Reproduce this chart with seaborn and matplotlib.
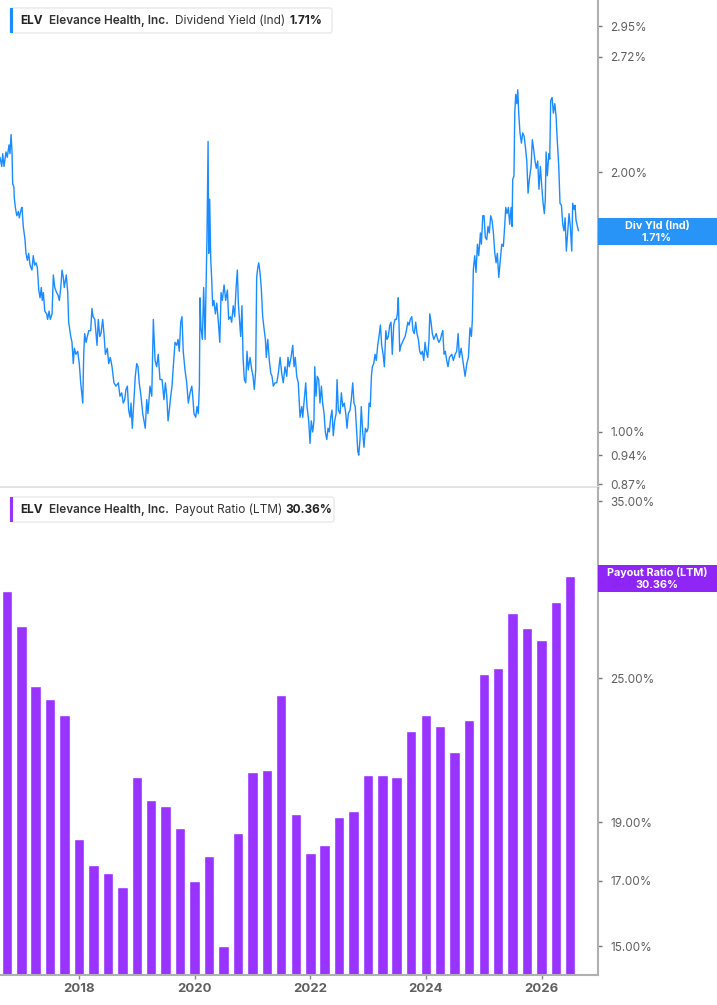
import pandas as pd
import matplotlib
matplotlib.use('Agg')
import matplotlib.pyplot as plt
from matplotlib.patches import FancyBboxPatch, Rectangle
from matplotlib.ticker import FixedLocator, NullLocator, FuncFormatter, NullFormatter
import seaborn as sns

sns.set_theme(style='white')
plt.rcParams['font.family'] = ['Inter', 'DejaVu Sans']

# --- data ---
yield_start = '2016-08-19'
yield_days = [
    0, 11, 17, 25, 38, 46, 57, 63, 70, 76, 80, 88, 90, 97, 106, 116, 122, 133, 139, 147,
    158, 164, 173, 181, 190, 202, 210, 219, 228, 236, 245, 253, 261, 267, 274, 283, 295, 301, 310, 318,
    329, 337, 346, 358, 367, 375, 384, 392, 400, 406, 419, 428, 434, 447, 455, 463, 470, 480, 491, 501,
    510, 523, 529, 535, 544, 552, 561, 573, 581, 588, 599, 605, 613, 621, 630, 638, 649, 657, 666, 678,
    687, 697, 708, 720, 733, 748, 758, 769, 779, 788, 796, 805, 813, 822, 828, 836, 845, 855, 864, 872,
    880, 891, 902, 910, 918, 927, 935, 948, 959, 969, 980, 990, 1000, 1011, 1024, 1036, 1045, 1054, 1062, 1070,
    1079, 1087, 1095, 1106, 1117, 1125, 1133, 1142, 1150, 1158, 1169, 1180, 1190, 1201, 1212, 1218, 1226, 1237, 1245, 1253,
    1260, 1264, 1270, 1279, 1287, 1296, 1302, 1308, 1315, 1319, 1325, 1332, 1338, 1344, 1352, 1361, 1370, 1380, 1389, 1397,
    1405, 1416, 1426, 1437, 1445, 1456, 1464, 1474, 1483, 1492, 1500, 1506, 1512, 1521, 1529, 1536, 1544, 1553, 1561, 1569,
    1580, 1591, 1599, 1607, 1616, 1622, 1629, 1635, 1643, 1651, 1660, 1668, 1677, 1683, 1692, 1702, 1711, 1719, 1727, 1738,
    1749, 1759, 1770, 1780, 1790, 1801, 1812, 1820, 1828, 1839, 1850, 1858, 1866, 1875, 1885, 1896, 1907, 1913, 1921, 1932,
    1940, 1951, 1959, 1967, 1976, 1984, 1989, 1997, 2005, 2014, 2022, 2031, 2039, 2048, 2056, 2065, 2073, 2081, 2090, 2098,
    2106, 2115, 2124, 2130, 2138, 2149, 2157, 2166, 2176, 2185, 2193, 2201, 2212, 2220, 2229, 2237, 2245, 2254, 2261, 2267,
    2275, 2283, 2292, 2300, 2309, 2318, 2326, 2332, 2340, 2347, 2353, 2362, 2370, 2378, 2387, 2395, 2404, 2412, 2421, 2429,
    2438, 2446, 2454, 2463, 2471, 2479, 2488, 2496, 2505, 2511, 2517, 2526, 2534, 2543, 2551, 2560, 2568, 2577, 2585, 2593,
    2602, 2610, 2618, 2627, 2635, 2644, 2652, 2661, 2669, 2678, 2686, 2694, 2703, 2711, 2716, 2724, 2732, 2741, 2749, 2757,
    2766, 2774, 2783, 2792, 2798, 2806, 2814, 2823, 2831, 2840, 2855, 2865, 2876, 2886, 2895, 2903, 2914, 2922, 2928, 2939,
    2950, 2960, 2970, 2979, 2985, 2991, 3000, 3008, 3017, 3025, 3036, 3042, 3051, 3059, 3067, 3076, 3084, 3092, 3101, 3109,
    3118, 3127, 3135, 3143, 3152, 3160, 3171, 3181, 3190, 3196, 3204, 3213, 3221, 3230, 3236, 3240, 3248, 3253, 3259, 3266,
    3272, 3278, 3286, 3295, 3303, 3312, 3320, 3329, 3337, 3345, 3356, 3364, 3373, 3381, 3389, 3398, 3406, 3415, 3424, 3432,
    3440, 3446, 3451, 3459, 3468, 3474, 3480, 3489, 3497, 3506, 3514, 3522, 3531, 3539, 3548, 3556, 3564, 3571, 3579, 3588,
    3596, 3604, 3613, 3619, 3628, 3634, 3640, 3649, 3655,
]
div_yield = [
    2.08, 2.03, 2.10, 2.03, 2.11, 2.08, 2.15, 2.10, 2.21, 2.11, 1.94, 1.92, 1.87, 1.82, 1.78, 1.80, 1.77, 1.81, 1.82, 1.73,
    1.67, 1.61, 1.58, 1.61, 1.56, 1.54, 1.60, 1.56, 1.57, 1.55, 1.46, 1.43, 1.47, 1.42, 1.45, 1.38, 1.37, 1.35, 1.38, 1.35,
    1.37, 1.52, 1.47, 1.45, 1.44, 1.42, 1.47, 1.54, 1.51, 1.47, 1.52, 1.45, 1.34, 1.29, 1.27, 1.20, 1.25, 1.23, 1.24, 1.20,
    1.14, 1.08, 1.23, 1.30, 1.27, 1.29, 1.31, 1.31, 1.39, 1.36, 1.35, 1.31, 1.26, 1.35, 1.29, 1.30, 1.35, 1.30, 1.23, 1.25,
    1.20, 1.22, 1.19, 1.14, 1.13, 1.14, 1.10, 1.11, 1.08, 1.09, 1.12, 1.13, 1.06, 1.04, 1.08, 1.01, 1.08, 1.16, 1.20, 1.19,
    1.14, 1.10, 1.05, 1.03, 1.01, 1.09, 1.05, 1.13, 1.10, 1.35, 1.21, 1.19, 1.23, 1.15, 1.15, 1.09, 1.14, 1.10, 1.03, 1.06,
    1.10, 1.13, 1.19, 1.27, 1.26, 1.28, 1.24, 1.34, 1.36, 1.24, 1.18, 1.14, 1.08, 1.11, 1.13, 1.10, 1.05, 1.04, 1.07, 1.05,
    1.13, 1.43, 1.32, 1.28, 1.47, 1.28, 1.47, 1.68, 2.17, 1.61, 1.86, 1.58, 1.50, 1.40, 1.42, 1.37, 1.41, 1.34, 1.27, 1.45,
    1.42, 1.48, 1.42, 1.46, 1.35, 1.36, 1.34, 1.40, 1.36, 1.47, 1.54, 1.41, 1.36, 1.29, 1.40, 1.22, 1.15, 1.14, 1.24, 1.18,
    1.22, 1.18, 1.16, 1.12, 1.18, 1.51, 1.55, 1.57, 1.53, 1.47, 1.36, 1.32, 1.28, 1.22, 1.28, 1.21, 1.17, 1.16, 1.13, 1.14,
    1.14, 1.17, 1.22, 1.17, 1.14, 1.19, 1.16, 1.22, 1.19, 1.22, 1.26, 1.19, 1.22, 1.16, 1.14, 1.04, 1.07, 1.04, 1.08, 1.14,
    1.07, 1.03, 0.97, 1.03, 1.00, 1.03, 1.19, 1.10, 1.16, 1.15, 1.08, 1.13, 1.08, 1.05, 1.00, 0.98, 1.01, 1.00, 1.04, 1.06,
    0.99, 1.03, 1.05, 1.15, 1.06, 1.05, 1.11, 1.07, 1.08, 1.05, 1.01, 1.05, 1.06, 1.09, 1.14, 1.08, 1.07, 1.00, 0.95, 0.94,
    0.98, 1.07, 1.00, 0.96, 1.01, 1.00, 1.01, 1.08, 1.07, 1.16, 1.19, 1.20, 1.23, 1.21, 1.26, 1.29, 1.33, 1.26, 1.23, 1.19,
    1.31, 1.28, 1.29, 1.33, 1.34, 1.23, 1.33, 1.35, 1.35, 1.37, 1.43, 1.24, 1.26, 1.27, 1.28, 1.29, 1.31, 1.34, 1.33, 1.35,
    1.36, 1.31, 1.30, 1.34, 1.30, 1.28, 1.24, 1.23, 1.24, 1.21, 1.27, 1.24, 1.22, 1.28, 1.37, 1.34, 1.30, 1.28, 1.29, 1.30,
    1.28, 1.27, 1.28, 1.30, 1.31, 1.23, 1.24, 1.21, 1.19, 1.22, 1.23, 1.21, 1.23, 1.24, 1.30, 1.22, 1.25, 1.22, 1.20, 1.16,
    1.20, 1.22, 1.32, 1.29, 1.35, 1.54, 1.60, 1.53, 1.65, 1.60, 1.70, 1.65, 1.78, 1.78, 1.68, 1.67, 1.73, 1.70, 1.78, 1.76,
    1.70, 1.61, 1.57, 1.61, 1.51, 1.57, 1.65, 1.64, 1.74, 1.82, 1.79, 1.82, 1.74, 1.82, 1.73, 1.96, 1.98, 2.34, 2.46, 2.40,
    2.49, 2.34, 2.22, 2.16, 2.22, 2.20, 2.14, 2.06, 1.89, 1.96, 2.03, 2.18, 2.12, 2.06, 2.02, 2.06, 1.91, 2.03, 1.92, 1.84,
    1.79, 1.86, 2.11, 1.98, 2.10, 2.07, 2.42, 2.44, 2.34, 2.40, 2.32, 2.17, 2.03, 1.84, 1.83, 1.74, 1.71, 1.77, 1.62, 1.71,
    1.79, 1.73, 1.62, 1.84, 1.81, 1.83, 1.76, 1.73, 1.71,
]

payout_quarters = pd.date_range('2016-10-01', periods=40, freq='QS')
payout_ratio = [
    29.5, 27.6, 24.6, 24.0, 23.3, 18.4, 17.5, 17.25, 16.8, 20.7,
    19.8, 19.6, 18.8, 17.0, 17.8, 15.0, 18.6, 20.9, 21.0, 24.2,
    19.3, 17.9, 18.2, 19.2, 19.4, 20.8, 20.8, 20.7, 22.6, 23.3,
    22.8, 21.7, 23.1, 25.2, 25.5, 28.3, 27.5, 26.9, 28.9, 30.36,
]

yield_ticks = [0.87, 0.94, 1.00, 2.00, 2.72, 2.95]
payout_ticks = [15, 17, 19, 25, 30, 35]
year_ticks = [2018, 2020, 2022, 2024, 2026]

BLUE = '#1a8cff'
BLUE_BOX = '#2191f7'
PURPLE = '#9933ff'
PURPLE_BOX = '#8b1ff5'
GREY_TXT = '#5f5f5f'

W, H = 717, 1005
fig = plt.figure(figsize=(W / 100, H / 100), dpi=100)
fig.patch.set_facecolor('white')


def fx(x):
    return x / W


def fy(y):
    return 1 - y / H


ax1 = fig.add_axes([0, fy(487), fx(598), fy(0) - fy(487)])
ax2 = fig.add_axes([0, fy(975), fx(598), fy(488) - fy(975)])

# top: dividend yield line
df_yield = pd.DataFrame({
    'date': pd.Timestamp(yield_start) + pd.to_timedelta(yield_days, unit='D'),
    'yield': div_yield,
})
sns.lineplot(data=df_yield, x='date', y='yield', ax=ax1, color=BLUE, linewidth=1.0)
ax1.set_yscale('log')
ax1.set_ylim(0.8635, 3.164)

# bottom: payout ratio bars
ax2.bar(payout_quarters, payout_ratio, width=66, color=PURPLE, log=True)
ax2.set_ylim(14.2, 35.9)

x0 = pd.Timestamp(yield_start)
x1 = x0 + pd.Timedelta(days=3779)
for ax, ticks in [(ax1, yield_ticks), (ax2, payout_ticks)]:
    ax.set_xlim(x0, x1)
    ax.set_xlabel('')
    ax.set_ylabel('')
    ax.yaxis.tick_right()
    ax.yaxis.set_major_locator(FixedLocator(ticks))
    ax.yaxis.set_minor_locator(NullLocator())
    ax.yaxis.set_minor_formatter(NullFormatter())
    ax.yaxis.set_major_formatter(FuncFormatter(lambda v, _: f'{v:.2f}%'))
    ax.tick_params(axis='y', which='major', length=3, width=1, color='#777777',
                   labelcolor=GREY_TXT, labelsize=8.5, pad=6, right=True, left=False)
    ax.spines['top'].set_visible(False)
    ax.spines['left'].set_visible(False)
    ax.spines['right'].set_color('#b0b0b0')
    ax.spines['right'].set_linewidth(1.5)
    ax.set_facecolor('white')

ax1.spines['bottom'].set_color('#e2e2e2')
ax1.spines['bottom'].set_linewidth(2)
ax1.tick_params(axis='x', bottom=False, labelbottom=False)

ax2.spines['bottom'].set_color('#b0b0b0')
ax2.spines['bottom'].set_linewidth(1.5)
ax2.set_xticks([pd.Timestamp(f'{y}-01-01') for y in year_ticks])
ax2.set_xticklabels([str(y) for y in year_ticks])
ax2.tick_params(axis='x', bottom=True, length=3, width=1, color='#888888',
                labelcolor=GREY_TXT, labelsize=9.5, pad=3)
for lbl in ax2.get_xticklabels():
    lbl.set_fontweight('bold')


def legend_box(y_top, right, color, name, value, val_x):
    h = 25
    box = FancyBboxPatch((fx(10), fy(y_top + h)), fx(right - 10), h / H,
                         boxstyle='round,pad=0,rounding_size=0.003',
                         transform=fig.transFigure, facecolor='white',
                         edgecolor='#e4e4e4', linewidth=0.8, zorder=5)
    fig.patches.append(box)
    strip = Rectangle((fx(10), fy(y_top + h)), fx(3), h / H, transform=fig.transFigure,
                      facecolor=color, edgecolor='none', zorder=6)
    fig.patches.append(strip)
    yc = fy(y_top + h / 2 + 0.5)
    fs = 8.5
    fig.text(fx(20), yc, 'ELV', fontsize=fs, fontweight='bold', color='#222222', va='center', zorder=7)
    fig.text(fx(49), yc, 'Elevance Health, Inc.', fontsize=fs, fontweight='semibold', color='#333333',
             va='center', zorder=7)
    fig.text(fx(175), yc, name, fontsize=fs, color='#333333', va='center', zorder=7)
    fig.text(fx(val_x), yc, value, fontsize=fs, fontweight='bold', color='#222222', va='center', zorder=7)


legend_box(8, 332, BLUE, 'Dividend Yield (Ind)', '1.71%', 290)
legend_box(497, 334, PURPLE, 'Payout Ratio (LTM)', '30.36%', 285)


def value_tag(y_top, color, name, value):
    h = 27
    tag = Rectangle((fx(598), fy(y_top + h)), fx(119), h / H, transform=fig.transFigure,
                    facecolor=color, edgecolor='none', alpha=0.97, zorder=8)
    fig.patches.append(tag)
    fig.text(fx(657), fy(y_top + 7.5), name, fontsize=7.8, fontweight='bold', color='white',
             ha='center', va='center', zorder=9)
    fig.text(fx(657), fy(y_top + 20), value, fontsize=7.8, fontweight='bold', color='white',
             ha='center', va='center', zorder=9)


value_tag(218, BLUE_BOX, 'Div Yld (Ind)', '1.71%')
value_tag(565, PURPLE_BOX, 'Payout Ratio (LTM)', '30.36%')

fig.savefig('out.png', dpi=100, facecolor='white')
